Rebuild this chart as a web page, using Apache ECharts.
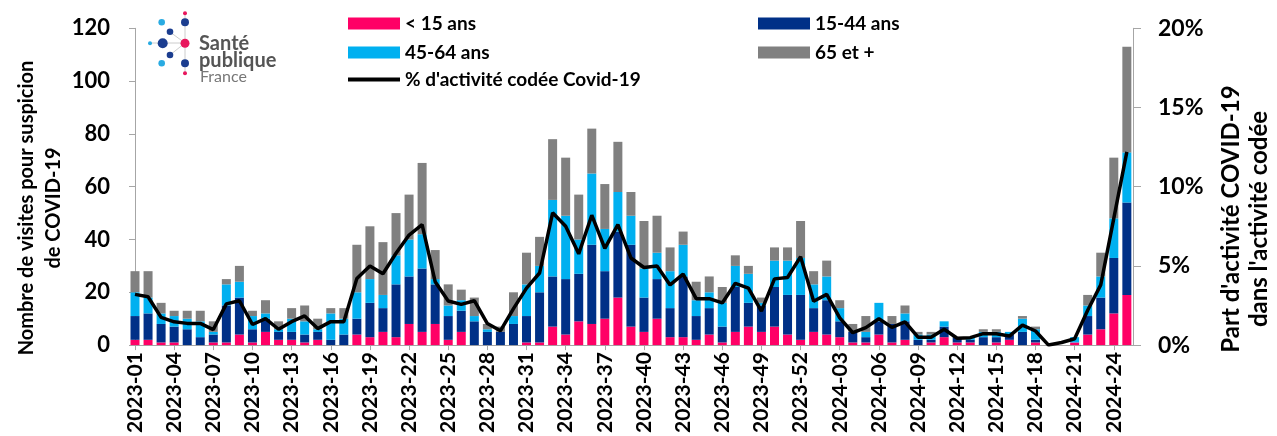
<!DOCTYPE html>
<html><head><meta charset="utf-8">
<script src="https://cdn.jsdelivr.net/npm/echarts@6/dist/echarts.min.js"></script>
<style>html,body{margin:0;padding:0;background:#fff}#c{width:1277px;height:436px}</style>
</head><body><div id="c"></div>
<script>
const categories = [
'2023-01','2023-02','2023-03','2023-04','2023-05','2023-06','2023-07','2023-08','2023-09','2023-10',
'2023-11','2023-12','2023-13','2023-14','2023-15','2023-16','2023-17','2023-18','2023-19','2023-20',
'2023-21','2023-22','2023-23','2023-24','2023-25','2023-26','2023-27','2023-28','2023-29','2023-30',
'2023-31','2023-32','2023-33','2023-34','2023-35','2023-36','2023-37','2023-38','2023-39','2023-40',
'2023-41','2023-42','2023-43','2023-44','2023-45','2023-46','2023-47','2023-48','2023-49','2023-50',
'2023-51','2023-52','2024-01','2024-02','2024-03','2024-04','2024-05','2024-06','2024-07','2024-08',
'2024-09','2024-10','2024-11','2024-12','2024-13','2024-14','2024-15','2024-16','2024-17','2024-18',
'2024-19','2024-20','2024-21','2024-22','2024-23','2024-24','2024-25'];

const under15 = [2,2,1,1,0,0,1,1,4,1, 5,2,2,1,2,0,0,4,3,5, 3,8,5,8,2,5,0,0,0,0, 1,1,7,4,9,8,10,18,7,5,
  10,3,3,2,4,1,5,7,5,7, 4,2,5,4,3,1,1,4,1,2, 0,1,3,1,1,0,1,2,0,1, 0,0,1,4,6,12,19];
const age15to44 = [9,10,7,6,6,3,3,14,14,5, 5,3,3,3,3,2,4,6,13,9, 20,18,24,15,9,8,9,5,5,8, 10,19,19,21,18,30,18,25,31,13,
  15,11,23,9,10,6,17,9,10,15, 15,17,9,13,6,4,2,5,7,7, 2,1,4,2,1,3,2,2,5,1, 0,0,0,7,12,21,35];
const age45to64 = [9,6,4,4,4,6,1,8,6,5, 2,1,5,5,1,10,6,10,9,5, 11,14,13,2,4,4,2,1,0,3, 12,10,29,24,13,27,16,15,11,11,
  10,14,12,6,6,9,8,11,1,10, 13,14,9,9,5,0,2,7,0,3, 2,2,2,0,1,2,2,1,5,4, 0,0,2,4,8,15,19];
const age65plus = [8,10,4,2,3,4,4,2,6,2, 5,3,4,6,4,2,4,18,20,20, 16,17,27,11,8,4,7,2,2,9, 12,11,23,22,17,17,17,19,9,18,
  14,9,5,7,6,6,4,3,2,5, 5,14,5,6,3,3,6,0,3,3, 1,1,0,0,0,1,1,0,1,1, 0,0,0,4,9,23,40];
const covidShare = [3.2,3.05,1.75,1.47,1.37,1.37,0.98,2.6,2.8,1.3, 1.67,1.0,1.48,1.84,1.04,1.48,1.48,4.2,5.0,4.5,
  5.8,6.95,7.6,4.0,2.78,2.57,2.8,1.36,0.9,2.3, 3.6,4.55,8.35,7.5,5.76,8.2,6.1,7.6,5.5,4.9,
  5.0,3.8,4.48,2.93,2.93,2.66,3.9,3.6,2.14,4.18, 4.27,5.58,2.77,3.2,1.72,0.78,1.1,1.66,1.12,1.47,
  0.5,0.5,1.0,0.43,0.47,0.72,0.72,0.57,1.26,0.89, 0,0.16,0.4,2.2,3.8,8.0,12.2];

const FONT = 'Lato';
const AX = '#A6A6A6';
const LINE_NAME = "% d'activité codée Covid-19";
const chart = echarts.init(document.getElementById('c'));
const lab = {fontFamily: FONT, fontWeight: 'bold', color: '#000'};
const legendText = Object.assign({fontSize: 19, lineHeight: 18}, lab);
const barSeries = (name, data, color) => ({
  name, type: 'bar', stack: 'age', data, barWidth: 9, itemStyle: {color}, yAxisIndex: 0
});
chart.setOption({
  animation: false,
  grid: {left: 135, top: 28.3, width: 1004.9, height: 319.2},
  legend: [
    {left: 348, top: 14, orient: 'vertical', itemWidth: 52, itemHeight: 12, itemGap: 10, padding: 0,
     textStyle: legendText,
     data: [{name: '< 15 ans', icon: 'rect'}, {name: '45-64 ans', icon: 'rect'}]},
    {left: 348, top: 70, orient: 'vertical', itemWidth: 52, itemHeight: 4, padding: 0,
     textStyle: legendText, itemStyle: {color: '#000'},
     data: [{name: LINE_NAME, icon: 'rect'}]},
    {left: 758, top: 14, orient: 'vertical', itemWidth: 52, itemHeight: 12, itemGap: 10, padding: 0,
     textStyle: legendText,
     data: [{name: '15-44 ans', icon: 'rect'}, {name: '65 et +', icon: 'rect'}]}
  ],
  xAxis: {
    type: 'category', data: categories.concat(['']), boundaryGap: false,
    axisLine: {lineStyle: {color: AX}},
    axisTick: {interval: 2, length: 5, lineStyle: {color: AX}},
    axisLabel: Object.assign({interval: 2, rotate: 90, margin: 7, fontSize: 21}, lab)
  },
  yAxis: [
    {type: 'value', min: 0, max: 120, interval: 20, position: 'left',
     axisLine: {show: true, lineStyle: {color: AX}}, axisTick: {show: true, length: 6, lineStyle: {color: AX}},
     splitLine: {show: false}, axisLabel: Object.assign({margin: 25, fontSize: 22}, lab)},
    {type: 'value', min: 0, max: 20, interval: 5, position: 'right', offset: -6.9,
     axisLine: {show: true, lineStyle: {color: AX}}, axisTick: {show: true, length: 8, lineStyle: {color: AX}},
     splitLine: {show: false}, axisLabel: Object.assign({margin: 25, fontSize: 23, formatter: '{value}%'}, lab)}
  ],
  series: [
    barSeries('< 15 ans', under15, '#FF0066'),
    barSeries('15-44 ans', age15to44, '#003087'),
    barSeries('45-64 ans', age45to64, '#00B0F0'),
    barSeries('65 et +', age65plus, '#808080'),
    {name: LINE_NAME, type: 'line', yAxisIndex: 1, data: covidShare, symbol: 'none',
     z: 5, lineStyle: {color: '#000', width: 3.5}, itemStyle: {color: '#000'}}
  ],
  graphic: [
    {type: 'text', x: 40.5, y: 208, rotation: Math.PI / 2,
     style: {text: 'Nombre de visites pour suspicion\nde COVID-19', fontFamily: FONT, fontWeight: 'bold', fontSize: 20,
       lineHeight: 27, fill: '#000', align: 'center', verticalAlign: 'middle'}},
    {type: 'text', x: 1245, y: 219, rotation: Math.PI / 2,
     style: {text: "Part d'activité COVID-19\ndans l'activité codée", fontFamily: FONT, fontWeight: 'bold', fontSize: 24,
       lineHeight: 28, fill: '#000', align: 'center', verticalAlign: 'middle'}},
    // logo
    {type: 'line', shape: {x1: 185, y1: 13, x2: 185, y2: 73}, style: {stroke: '#ccc', lineWidth: 1}},
    {type: 'line', shape: {x1: 150, y1: 43, x2: 185, y2: 43}, style: {stroke: '#ccc', lineWidth: 1}},
    {type: 'line', shape: {x1: 170, y1: 32, x2: 185, y2: 43}, style: {stroke: '#ccc', lineWidth: 1}},
    {type: 'line', shape: {x1: 170, y1: 55, x2: 185, y2: 43}, style: {stroke: '#ccc', lineWidth: 1}},
    {type: 'circle', shape: {cx: 185, cy: 13.3, r: 2}, style: {fill: '#E8175D'}},
    {type: 'circle', shape: {cx: 185, cy: 22.3, r: 4}, style: {fill: '#1B3D8F'}},
    {type: 'circle', shape: {cx: 161.7, cy: 22.3, r: 3.3}, style: {fill: '#29ABE2'}},
    {type: 'circle', shape: {cx: 170, cy: 31.7, r: 3.3}, style: {fill: '#1B3D8F'}},
    {type: 'circle', shape: {cx: 150, cy: 43.3, r: 2}, style: {fill: '#29ABE2'}},
    {type: 'circle', shape: {cx: 162.7, cy: 43.3, r: 5}, style: {fill: '#1B3D8F'}},
    {type: 'circle', shape: {cx: 185, cy: 43.3, r: 4.5}, style: {fill: '#E8175D'}},
    {type: 'circle', shape: {cx: 170, cy: 55, r: 3.3}, style: {fill: '#1B3D8F'}},
    {type: 'circle', shape: {cx: 161.7, cy: 63.3, r: 3.3}, style: {fill: '#29ABE2'}},
    {type: 'circle', shape: {cx: 185, cy: 63.3, r: 4}, style: {fill: '#1B3D8F'}},
    {type: 'circle', shape: {cx: 185, cy: 73.3, r: 2}, style: {fill: '#E8175D'}},
    {type: 'text', x: 199, y: 34, style: {text: 'Santé', fontFamily: FONT, fontWeight: 'bold', fontSize: 20, fill: '#555', verticalAlign: 'alphabetic'}},
    {type: 'text', x: 199, y: 50.5, style: {text: 'publique', fontFamily: FONT, fontWeight: 'bold', fontSize: 20, fill: '#555', verticalAlign: 'alphabetic'}},
    {type: 'text', x: 200, y: 69, style: {text: 'France', fontFamily: FONT, fontSize: 16, fill: '#777', verticalAlign: 'alphabetic'}}
  ]
});
</script></body></html>
